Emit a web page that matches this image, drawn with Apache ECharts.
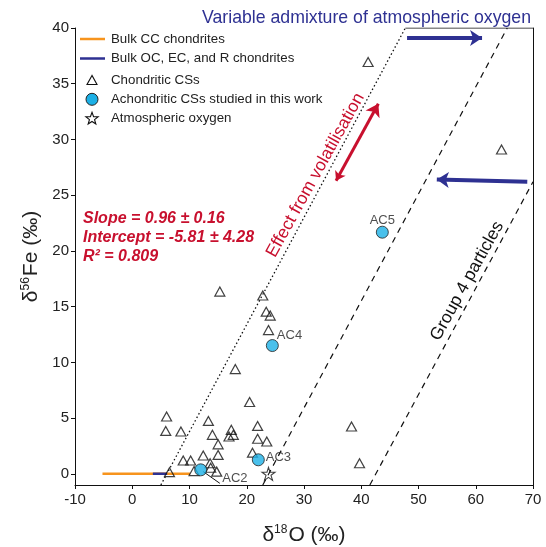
<!DOCTYPE html>
<html><head><meta charset="utf-8">
<script src="https://cdn.jsdelivr.net/npm/echarts@6/dist/echarts.min.js"></script>
<style>html,body{margin:0;padding:0;background:#fff}#c{width:546px;height:547px}</style>
</head><body><div id="c"></div>
<script>
// ---- data ----
const xTickValues = [-10, 0, 10, 20, 30, 40, 50, 60, 70];
const yTickValues = [0, 5, 10, 15, 20, 25, 30, 35, 40];
const bulkCC = [[-5.2, 0], [10.1, 0]];
const bulkOC = [[3.6, 0], [6.1, 0]];
const chondriticCS = [
  [41.2, 36.95], [64.5, 29.1], [15.3, 16.35], [22.8, 16.0], [23.4, 14.55], [24.1, 14.2],
  [23.8, 12.9], [18.0, 9.4], [20.5, 6.45], [6.0, 5.15], [5.85, 3.85], [8.5, 3.8],
  [13.3, 4.75], [14.0, 3.5], [15.0, 2.65], [17.3, 3.95], [16.9, 3.35], [17.65, 3.5],
  [21.9, 4.3], [21.9, 3.15], [23.5, 2.9], [21.0, 1.9], [12.4, 1.65], [15.0, 1.7],
  [8.9, 1.2], [10.2, 1.2], [13.6, 0.95], [10.8, 0.25], [6.5, 0.15], [13.7, 0.55],
  [14.75, 0.2], [38.3, 4.25], [39.7, 0.95]
];
const achondriticNames = ['AC2', 'AC3', 'AC4', 'AC5'];
const achondriticCS = [[11.96, 0.36], [22.02, 1.26], [24.47, 11.51], [43.68, 21.68]];
const atmosphericO = [[23.8, 0]];
const volatilisationLine = [[5.0, -1], [47.7, 40]];
const admixtureLine = [[22.8, -1], [65.5, 40]];
const group4Line = [[41.5, -1], [70, 26.2]];
const topFrame = [[47.7, 40], [70, 40]];
const ac2Leader = [[12.4, 0.2], [15.3, -0.85]];
const arrowTop = [[48.0, 39.1], [61.1, 39.1]];
const arrowMid = [[69.0, 26.2], [53.2, 26.4]];
const arrowVolat = [[35.6, 26.3], [42.98, 33.2]];
const volatTextAt = [32.0, 26.8];
const group4TextAt = [58.5, 17.3];
const legendNames = ['Bulk CC chondrites', 'Bulk OC, EC, and R chondrites', 'Chondritic CSs',
  'Achondritic CSs studied in this work', 'Atmospheric oxygen'];

const BLUE = '#2e3192', RED = '#c8102e', ORANGE = '#f7941d', CYAN = '#1cb0e6';
const STAR = 'path://M50,4 L61,38 L97,38 L68,59 L79,94 L50,73 L21,94 L32,59 L3,38 L39,38 Z';
const FONT = 'Arial, "Liberation Sans", Helvetica, sans-serif';

const chart = echarts.init(document.getElementById('c'), null, {renderer: 'canvas'});
const lineSeries = (name, data, style) => ({
  name, type: 'line', data, symbol: 'none', silent: true, z: 2,
  lineStyle: Object.assign({color: '#111', width: 1.2}, style)
});
const arrowSeries = (coords, color, width, sym, size) => ({
  type: 'lines', coordinateSystem: 'cartesian2d', silent: true, z: 3,
  symbol: sym, symbolSize: size,
  lineStyle: {color, width, opacity: 1, curveness: 0},
  data: [{coords}]
});
const labelPos = [
  {position: 'right', offset: [10, 8.5]},
  {position: 'right', offset: [-4, -2]},
  {position: 'right', offset: [-7, -10]},
  {position: 'top', offset: [0, 6]}
];

chart.setOption({
  animation: false,
  backgroundColor: '#fff',
  textStyle: {fontFamily: FONT},
  title: {
    text: 'Variable admixture of atmospheric oxygen', left: 197, top: 4,
    textStyle: {fontSize: 17.7, fontWeight: 'normal', color: BLUE, fontFamily: FONT}
  },
  grid: {left: 75, right: 13, top: 28, bottom: 62, containLabel: false, outerBoundsMode: 'none'},
  xAxis: {
    type: 'value', min: -10, max: 70, interval: 10,
    name: '{a|δ}{s|18}{a|O (‰)}', nameLocation: 'middle', nameGap: 39,
    nameTextStyle: {rich: {
      a: {fontSize: 21, color: '#222', fontFamily: FONT},
      s: {fontSize: 12, color: '#222', fontFamily: FONT, verticalAlign: 'top', padding: [0, 1, 10, 0]}
    }},
    axisLine: {onZero: false, lineStyle: {color: '#111', width: 1}},
    axisTick: {inside: false, length: 4, lineStyle: {color: '#111'}},
    axisLabel: {fontSize: 15, color: '#222', margin: 7, fontFamily: FONT},
    splitLine: {show: false}
  },
  yAxis: [{
    type: 'value', min: -1, max: 40,
    name: '{a|δ}{s|56}{a|Fe (‰)}', nameLocation: 'middle', nameGap: 33, nameRotate: 90,
    nameTextStyle: {rich: {
      a: {fontSize: 21, color: '#222', fontFamily: FONT},
      s: {fontSize: 12, color: '#222', fontFamily: FONT, verticalAlign: 'top', padding: [0, 1, 10, 0]}
    }},
    axisLine: {show: true, onZero: false, lineStyle: {color: '#111', width: 1}},
    axisTick: {show: true, length: 4, customValues: yTickValues, lineStyle: {color: '#111'}},
    axisLabel: {fontSize: 15, color: '#222', margin: 6, customValues: yTickValues, fontFamily: FONT},
    splitLine: {show: false}
  }, {
    type: 'value', min: -1, max: 40, position: 'right',
    axisLine: {show: true, onZero: false, lineStyle: {color: '#111', width: 1}},
    axisTick: {show: false}, axisLabel: {show: false}, splitLine: {show: false}
  }],
  series: [
    lineSeries('frame', topFrame, {width: 1}),
    lineSeries('volat', volatilisationLine, {type: [1.5, 2.5], width: 1.3}),
    lineSeries('admix', admixtureLine, {type: [6, 5], width: 1.2}),
    lineSeries('group4', group4Line, {type: [6, 5], width: 1.2}),
    lineSeries('leader', ac2Leader, {width: 1}),
    lineSeries(legendNames[0], bulkCC, {color: ORANGE, width: 2.5}),
    lineSeries(legendNames[1], bulkOC, {color: BLUE, width: 2.5}),
    arrowSeries(arrowTop, BLUE, 4, ['none', 'arrow'], [10, 12]),
    arrowSeries(arrowMid, BLUE, 4, ['none', 'arrow'], [10, 12]),
    arrowSeries(arrowVolat, RED, 3, ['arrow', 'arrow'], [9, 12]),
    {
      name: legendNames[2], type: 'scatter', data: chondriticCS, z: 4,
      symbol: 'triangle', symbolSize: [10, 9],
      itemStyle: {color: 'rgba(255,255,255,0)', borderColor: '#111', borderWidth: 1.2}
    },
    {
      name: legendNames[3], type: 'scatter', z: 5,
      data: achondriticCS.map((p, i) => ({value: p, name: achondriticNames[i], label: labelPos[i]})),
      symbol: 'circle', symbolSize: 12,
      itemStyle: {color: CYAN, borderColor: '#222', borderWidth: 1},
      label: {show: true, formatter: '{b}', fontSize: 13, color: '#222', fontFamily: FONT}
    },
    {
      name: legendNames[4], type: 'scatter', data: atmosphericO, z: 4,
      symbol: STAR, symbolSize: 13,
      itemStyle: {color: 'rgba(255,255,255,0)', borderColor: '#111', borderWidth: 1.1}
    }
  ]
});

// star outline points for the key
function starPts(cx, cy, R, r) {
  const pts = [];
  for (let k = 0; k < 10; k++) {
    const a = -Math.PI / 2 + k * Math.PI / 5, rr = k % 2 ? r : R;
    pts.push([cx + rr * Math.cos(a), cy + rr * Math.sin(a)]);
  }
  return pts;
}
const keyY = [39, 58.5, 80, 99.3, 118.3];
const keyFont = '13.3px ' + FONT;
const keyTexts = legendNames.map((t, i) => ({
  type: 'text', x: 111, y: keyY[i], z: 10,
  style: {text: t, font: keyFont, fill: '#222', verticalAlign: 'middle'}
}));

const px = p => chart.convertToPixel({gridIndex: 0}, p);
const vt = px(volatTextAt), gt = px(group4TextAt);
const ang = 61 * Math.PI / 180;
chart.setOption({
  graphic: [
    {type: 'line', z: 10, shape: {x1: 80, y1: keyY[0], x2: 105, y2: keyY[0]}, style: {stroke: ORANGE, lineWidth: 2.5}},
    {type: 'line', z: 10, shape: {x1: 80, y1: keyY[1], x2: 105, y2: keyY[1]}, style: {stroke: BLUE, lineWidth: 2.5}},
    {type: 'polygon', z: 10, shape: {points: [[92, keyY[2] - 4.5], [87, keyY[2] + 4.5], [97, keyY[2] + 4.5]]},
     style: {fill: 'none', stroke: '#111', lineWidth: 1.1}},
    {type: 'circle', z: 10, shape: {cx: 92, cy: keyY[3], r: 6}, style: {fill: CYAN, stroke: '#222', lineWidth: 1}},
    {type: 'polygon', z: 10, shape: {points: starPts(92, keyY[4] + 0.5, 6.5, 2.7)},
     style: {fill: 'none', stroke: '#111', lineWidth: 1.1}},
    ...keyTexts,
    {type: 'text', x: vt[0], y: vt[1], rotation: ang, z: 10,
     style: {text: 'Effect from volatilisation', font: '17.5px ' + FONT, fill: RED, align: 'center', verticalAlign: 'middle'}},
    {type: 'text', x: gt[0], y: gt[1], rotation: ang, z: 10,
     style: {text: 'Group 4 particles', font: '17.5px ' + FONT, fill: '#111', align: 'center', verticalAlign: 'middle'}},
    {type: 'text', left: 83, top: 209, z: 10,
     style: {text: 'Slope = 0.96 ± 0.16\nIntercept = -5.81 ± 4.28\nR² = 0.809', font: 'italic bold 16px ' + FONT,
             fill: RED, lineHeight: 19}}
  ]
});
</script></body></html>
